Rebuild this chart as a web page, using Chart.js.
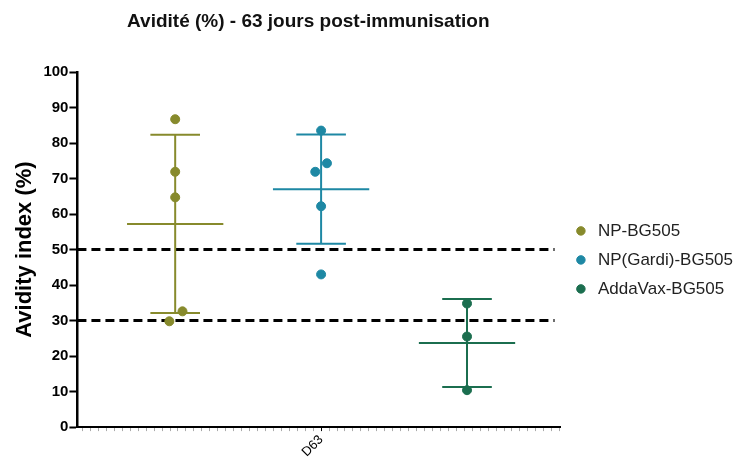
<!DOCTYPE html>
<html>
<head>
<meta charset="utf-8">
<script src="https://cdn.jsdelivr.net/npm/chart.js@4"></script>
<style>
  html, body { margin: 0; padding: 0; background: #fff; }
  #wrap { width: 743px; height: 463px; position: relative; }
</style>
</head>
<body>
<div id="wrap"><canvas id="chart"></canvas></div>
<script>
// Data
const groups = ['NP-BG505', 'NP(Gardi)-BG505', 'AddaVax-BG505'];
const timepoint = 'D63';
const np = [86.7, 71.9, 64.7, 32.6, 29.8];
const npGardi = [83.5, 74.3, 71.9, 62.2, 43.0];
const addaVax = [34.8, 25.5, 10.4];
const means = [57.2, 67.0, 23.7];
const sds = [25.1, 15.4, 12.4];
const thresholds = [50, 30];

const colors = ['#878a2c', '#1e88a4', '#1b6e4f'];
const FONT = 'Liberation Sans, Arial, sans-serif';

// small horizontal scatter of overlapping dots
const jitter = [
    [0, 0, 0, 0.05, -0.04],
    [0, 0.04, -0.04, 0, 0],
    [0, 0, 0]
];
const allValues = [np, npGardi, addaVax];

const X_MIN = -1.67, X_MAX = 1.64;
const MEAN_HALF = 0.33, CAP_HALF = 0.17;

const datasets = [];

// dots
allValues.forEach((vals, g) => {
    datasets.push({
        type: 'scatter',
        label: groups[g],
        data: vals.map((v, i) => ({ x: (g - 1) + jitter[g][i], y: v })),
        backgroundColor: colors[g],
        borderColor: colors[g],
        pointRadius: 4.5,
        pointHoverRadius: 4.5,
        order: 0
    });
});

// mean +/- SD bars
means.forEach((m, g) => {
    const cx = g - 1;
    const hi = m + sds[g], lo = m - sds[g];
    datasets.push({
        type: 'line',
        label: 'err' + g,
        data: [
            { x: cx - MEAN_HALF, y: m }, { x: cx + MEAN_HALF, y: m }, { x: cx, y: null },
            { x: cx - CAP_HALF, y: hi }, { x: cx + CAP_HALF, y: hi }, { x: cx, y: null },
            { x: cx - CAP_HALF, y: lo }, { x: cx + CAP_HALF, y: lo }, { x: cx, y: null },
            { x: cx, y: hi }, { x: cx, y: lo }
        ],
        borderColor: colors[g],
        borderWidth: 2,
        pointRadius: 0,
        spanGaps: false,
        fill: false,
        order: 1
    });
});

// threshold lines
thresholds.forEach((t, i) => {
    datasets.push({
        type: 'line',
        label: 'thr' + i,
        data: [{ x: X_MIN, y: t }, { x: 1.6, y: t }],
        borderColor: '#000',
        borderWidth: 3,
        borderDash: [9, 5],
        pointRadius: 0,
        fill: false,
        order: 2
    });
});

// title drawn a bit left of the plot centre, like the original
const titlePlugin = {
    id: 'offsetTitle',
    afterDraw(chart) {
        const { ctx, chartArea } = chart;
        ctx.save();
        ctx.font = 'bold 19px ' + FONT;
        ctx.fillStyle = '#111';
        ctx.textAlign = 'center';
        ctx.textBaseline = 'middle';
        const x = chartArea.left + (chartArea.right - chartArea.left) * 0.478;
        ctx.fillText('Avidité (%) - 63 jours post-immunisation', x, 22);
        ctx.restore();
    }
};

// minor tick positions along x axis
const minorStep = 0.0545;

new Chart(document.getElementById('chart'), {
    type: 'scatter',
    data: { datasets },
    plugins: [titlePlugin],
    options: {
        responsive: true,
        maintainAspectRatio: false,
        animation: false,
        layout: { padding: { left: 8, right: 0, top: 72, bottom: 2 } },
        scales: {
            x: {
                type: 'linear',
                min: X_MIN,
                max: X_MAX,
                afterBuildTicks: axis => {
                    const ticks = [];
                    for (let k = -30; k <= 30; k++) ticks.push({ value: k * minorStep });
                    axis.ticks = ticks;
                },
                ticks: {
                    autoSkip: false,
                    maxRotation: 45,
                    minRotation: 45,
                    padding: 1,
                    color: '#000',
                    font: { family: FONT, size: 13 },
                    callback: v => Math.abs(v) < 1e-9 ? timepoint : ''
                },
                grid: {
                    drawOnChartArea: false,
                    drawTicks: true,
                    tickLength: 4,
                    tickColor: ctx => (ctx.tick && Math.abs(ctx.tick.value) < 1e-9) ? '#000' : '#aaa'
                },
                border: { color: '#000', width: 2 }
            },
            y: {
                min: 0,
                max: 100,
                ticks: {
                    stepSize: 10,
                    color: '#000',
                    padding: 1,
                    font: { family: FONT, size: 15, weight: 'bold' }
                },
                grid: {
                    drawOnChartArea: false,
                    drawTicks: true,
                    tickLength: 8,
                    tickColor: '#000',
                    tickWidth: 2
                },
                border: { color: '#000', width: 2.5 },
                title: {
                    display: true,
                    text: 'Avidity index (%)',
                    color: '#000',
                    padding: 4,
                    font: { family: FONT, size: 22, weight: 'bold' }
                }
            }
        },
        plugins: {
            title: { display: false },
            legend: {
                position: 'right',
                align: 'start',
                // empty legend title used only as vertical spacer
                title: { display: true, text: '', padding: { top: 62, bottom: 62 }, font: { size: 12 } },
                labels: {
                    usePointStyle: true,
                    boxWidth: 17,
                    boxHeight: 6,
                    padding: 12,
                    color: '#222',
                    font: { family: FONT, size: 17 },
                    filter: item => item.datasetIndex < 3
                }
            },
            tooltip: { enabled: false }
        }
    }
});
</script>
</body>
</html>
